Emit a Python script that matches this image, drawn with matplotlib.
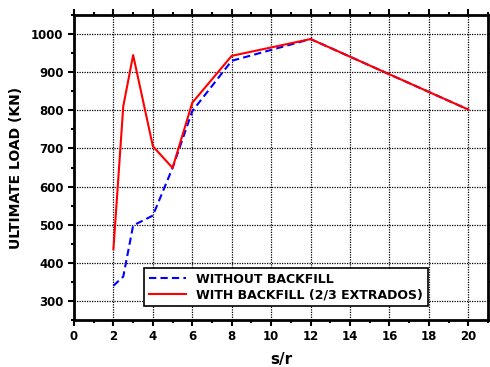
import matplotlib
matplotlib.use("Agg")
import matplotlib.pyplot as plt
from matplotlib.ticker import MultipleLocator

# ultimate load vs spacing ratio
sr_without = [2, 2.5, 3, 4, 5, 6, 8, 12, 20]
load_without = [340, 364, 498, 524, 649, 798, 930, 987, 802]

sr_with = [2, 2.5, 3, 4, 5, 6, 8, 12, 20]
load_with = [436, 811, 945, 706, 649, 820, 943, 987, 802]

plt.rcParams['font.family'] = 'DejaVu Sans'
plt.rcParams['font.weight'] = 'bold'

fig = plt.figure(figsize=(4.9, 3.67), dpi=100)
ax = fig.add_axes([0.151, 0.128, 0.845, 0.831])

ax.plot(sr_without, load_without, color='blue', linestyle=(0, (3.5, 2)), linewidth=1.5,
        label='WITHOUT BACKFILL', zorder=3)
ax.plot(sr_with, load_with, color='red', linewidth=1.5,
        label='WITH BACKFILL (2/3 EXTRADOS)', zorder=4)

ax.set_xlim(0, 21)
ax.set_ylim(250, 1050)
ax.xaxis.set_major_locator(MultipleLocator(2))
ax.xaxis.set_minor_locator(MultipleLocator(1))
ax.yaxis.set_major_locator(MultipleLocator(100))
ax.yaxis.set_minor_locator(MultipleLocator(50))

ax.grid(True, which='major', color='black', linestyle=(0, (1, 1)), linewidth=0.9)
for s in ax.spines.values():
    s.set_linewidth(2)
ax.tick_params(which='both', direction='out', top=True, right=True, width=1.5,
               labelsize=8.5)
ax.tick_params(which='major', length=4)
ax.tick_params(which='minor', length=2.5)
for lbl in ax.get_xticklabels() + ax.get_yticklabels():
    lbl.set_fontweight('bold')

ax.set_xlabel('s/r', fontsize=11, fontweight='bold', labelpad=6)
ax.set_ylabel('ULTIMATE LOAD (KN)', fontsize=10, fontweight='bold', labelpad=6)

leg = ax.legend(loc='lower left', bbox_to_anchor=(0.155, 0.025), fontsize=9,
                frameon=True, fancybox=False, edgecolor='black', framealpha=1,
                handlelength=3, borderpad=0.35, labelspacing=0.25)
leg.get_frame().set_linewidth(1.2)
for t in leg.get_texts():
    t.set_fontweight('bold')

fig.savefig('out.png', dpi=100)
